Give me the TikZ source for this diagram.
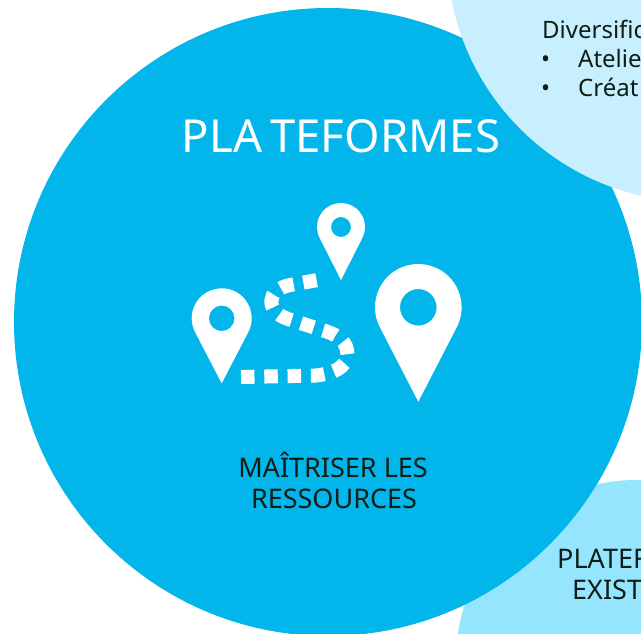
\documentclass[tikz,border=0pt]{standalone}
\usepackage{fontspec}
\setmainfont{Noto Sans}
\definecolor{mainblue}{RGB}{2,182,236}
\definecolor{paleblue}{RGB}{200,239,253}
\definecolor{skyblue}{RGB}{150,229,255}
\definecolor{darktext}{RGB}{14,30,22}
\tikzset{
  disc/.style={circle, inner sep=0pt, draw=none},
  bodytxt/.style={font=\fontsize{27}{31}\selectfont, text=darktext, inner sep=0pt},
  smalltxt/.style={font=\fontsize{24}{29}\selectfont, text=darktext, inner sep=0pt, anchor=base west},
  titletxt/.style={font=\fontsize{45.5}{50}\selectfont, text=white, inner sep=0pt},
  pinfill/.style={fill=white, even odd rule},
  route/.style={draw=white, line width=14pt, dash pattern=on 13.5pt off 9.8pt},
}
\begin{document}
\begin{tikzpicture}[x=1pt,y=-1pt]
\useasboundingbox (0,0) rectangle (641,634);
\clip (0,0) rectangle (641,634);
% circles
\node[disc, fill=skyblue, minimum size=360pt] (low) at (636,660) {};
\node[disc, fill=mainblue, minimum size=628pt] (main) at (328,322) {};
\node[disc, fill=paleblue, minimum size=500pt] (top) at (697,-48) {};
% title
\node[titletxt, anchor=base] (title) at (341,152.5) {PLA\kern8pt TEFORMES};
% pins
\fill[pinfill] (418.3,401.7) -- ([shift={(27.3:43.3)}]418.3,307.3)
  arc[start angle=27.3, end angle=-207.3, radius=43.3] -- cycle
  (418.3,307.3) circle[radius=18.3];
\fill[pinfill] (221.7,383.3) -- ([shift={(27.3:30)}]221.7,318.3)
  arc[start angle=27.3, end angle=-207.3, radius=30] -- cycle
  (221.7,318.3) circle[radius=12.8];
\fill[pinfill] (341,280) -- ([shift={(27.3:24)}]341,227)
  arc[start angle=27.3, end angle=-207.3, radius=24] -- cycle
  (341,227) circle[radius=10];
% route
\draw[route] (241,377) -- (316,375.5)
  .. controls (340,373) and (350,362) .. (347,350)
  .. controls (345,340) and (336,334) .. (322,330)
  -- (288,319)
  .. controls (265,311) and (266,290) .. (290,285)
  -- (326,278.5);
% labels
\node[bodytxt, anchor=base] (m1) at (333,477) {MAÎTRISER LES};
\node[bodytxt, anchor=base] (m2) at (334,508) {RESSOURCES};
\node[smalltxt] (d1) at (542,38.5) {Diversific};
\node[smalltxt] (b1) at (541,67.5) {•};
\node[smalltxt] (a1) at (578,67.5) {Atelie};
\node[smalltxt] (b2) at (541,96.5) {•};
\node[smalltxt] (c1) at (578,96.5) {Créat};
\node[bodytxt, anchor=base west] (p1) at (557,568) {PLATEF};
\node[bodytxt, anchor=base west] (e1) at (572,599) {EXIST};
\end{tikzpicture}
\end{document}
